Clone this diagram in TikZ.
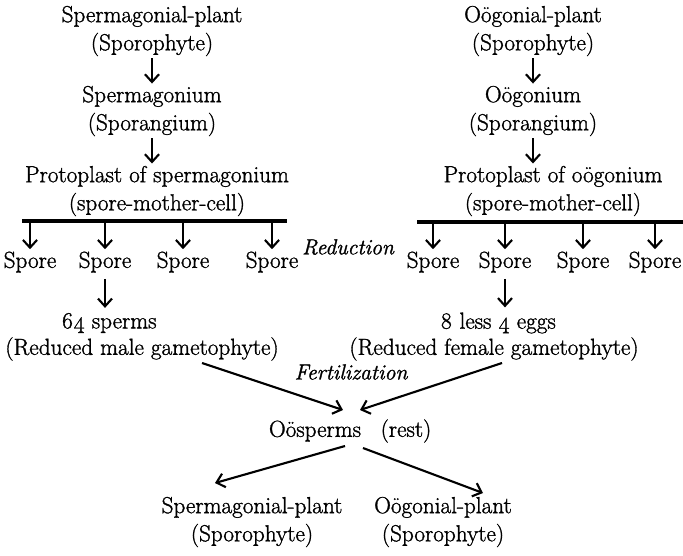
\documentclass[tikz,border=0pt]{standalone}
\usepackage{fontspec}
\setmainfont{Latin Modern Roman}[FakeBold=1.3]
\usepackage{tikz}
\usetikzlibrary{arrows.meta}
\newcommand{\sporerow}[3]{%
  \foreach \sx [count=\si] in {#3}{
    \node[txt] (#1\si) at (\sx,262) {Spore};
    \draw[arr] (#1\si |- #2) -- (#1\si);
  }
}

\begin{document}
\begin{tikzpicture}[x=.025cm,y=-.025cm,font=\fontsize{16.5}{20}\selectfont,
    txt/.style={inner sep=1.5pt,align=center},
    lbl/.style={inner sep=1pt,font=\fontsize{15.5}{18}\selectfont\itshape},
    arr/.style={line width=1.5pt,-{Straight Barb[length=5.5pt,width=10pt]}},
    bar/.style={line width=2.2pt}]
  \useasboundingbox (0,0) rectangle (683,555);
  \node[txt] (plantL) at (152,31) {Spermagonial-plant\\(Sporophyte)};
  \node[txt] (gonL) at (152,111) {Spermagonium\\(Sporangium)};
  \node[txt] (protoL) at (157,191) {Protoplast of spermagonium\\(spore-mother-cell)};
  \draw[arr] (plantL) -- (gonL);
  \draw[arr] (gonL.south) -- (gonL.south |- protoL.north);
  \coordinate (barLa) at (22,221);
  \coordinate (barLb) at (287,221);
  \draw[bar] (barLa) -- (barLb);
  \sporerow{sL}{barLa}{30,105,183,272}
  \node[txt] (spermL) at (109,323) {\oldstylenums{64} sperms};
  \node[txt] (redL) at (142,349) {(Reduced male gametophyte)};
  \draw[arr,shorten <=3pt,shorten >=2pt] (sL2.south) -- (sL2.south |- spermL.north);

  \node[txt] (plantR) at (533,31) {Oögonial-plant\\(Sporophyte)};
  \node[txt] (gonR) at (533,111) {Oögonium\\(Sporangium)};
  \node[txt] (protoR) at (553,191) {Protoplast of oögonium\\(spore-mother-cell)};
  \draw[arr] (plantR) -- (gonR);
  \draw[arr] (gonR.south) -- (gonR.south |- protoR.north);
  \coordinate (barRa) at (417,222);
  \coordinate (barRb) at (683,222);
  \draw[bar] (barRa) -- (barRb);
  \sporerow{sR}{barRa}{433,505,583,655}
  \node[txt] (eggsR) at (498,323) {\oldstylenums{8} less \oldstylenums{4} eggs};
  \node[txt] (redR) at (494,349) {(Reduced female gametophyte)};
  \draw[arr,shorten <=3pt,shorten >=2pt] (sR2.south) -- (sR2.south |- eggsR.north);

  \node[lbl] (reduct) at (348,247) {Reduction};
  \node[lbl] (fert) at (351,372) {Fertilization};
  \node[txt] (oosp) at (315,431) {Oösperms};
  \node[txt] (rest) at (406,431) {(rest)};
  \coordinate (fL) at (202,363);
  \coordinate (fR) at (502,363);
  \coordinate (zL) at (343,410);
  \coordinate (zR) at (360,410);
  \draw[arr] (fL) -- (zL);
  \draw[arr] (fR) -- (zR);

  \node[txt] (plantB1) at (252,522) {Spermagonial-plant\\(Sporophyte)};
  \node[txt] (plantB2) at (443,522) {Oögonial-plant\\(Sporophyte)};
  \coordinate (dL) at (345,446);
  \coordinate (dR) at (363,448);
  \coordinate (tL) at (215,483);
  \coordinate (tR) at (483,493);
  \draw[arr] (dL) -- (tL);
  \draw[arr] (dR) -- (tR);
\end{tikzpicture}
\end{document}
